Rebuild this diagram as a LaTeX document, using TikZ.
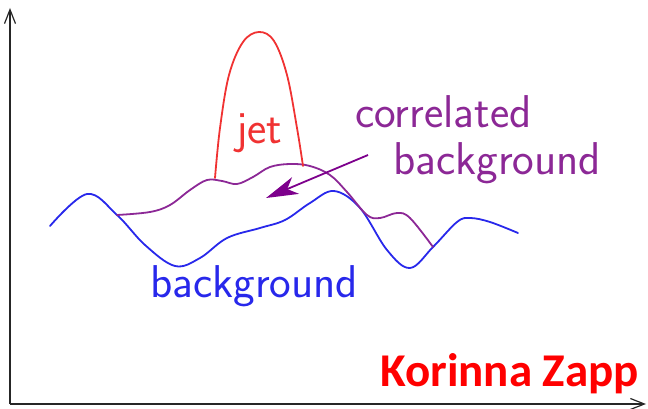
\documentclass[tikz,border=0pt]{standalone}
\usepackage{fontspec}
\newfontfamily\namefont{Carlito}
\usetikzlibrary{arrows.meta}
\definecolor{bgblue}{RGB}{40,40,235}
\definecolor{corrpurple}{RGB}{140,40,150}
\definecolor{arrowpurple}{RGB}{125,0,140}
\definecolor{jetred}{RGB}{240,50,50}
\definecolor{namered}{RGB}{255,0,0}
\begin{document}
\begin{tikzpicture}[x=1pt,y=-1pt,
  curve/.style={line width=1.8pt,line join=round,line cap=round},
  lbl/.style={inner sep=0pt,anchor=base west,font=\sffamily\fontsize{46}{52}\selectfont},
  axisline/.style={line width=1.3pt,draw=black!85,-{Straight Barb[length=14pt,width=11pt,line width=1.2pt]}}]
\useasboundingbox (0,0) rectangle (648,409);
% axes
\coordinate (o) at (10,404);
\coordinate (ytop) at (10,8);
\coordinate (xend) at (646,404);
\draw[axisline] (o) -- (ytop);
\draw[axisline] (o) -- (xend);
% background (blue)
\draw[curve,bgblue] plot[smooth,tension=0.6] coordinates {
 (50,226) (87,194) (117,215) (145,245) (175,266) (200,258) (227,238) (260,228) (285,220) (310,203) (334,191) (360,208) (387,250) (410,268) (433,247) (457,222) (470,218) (490,222) (518,233)};
% correlated background (purple)
\draw[curve,corrpurple] plot[smooth,tension=0.6] coordinates {
 (117,215) (150,212) (170,205) (190,190) (207,180) (222,181) (237,184) (253,177) (270,167) (290,164) (310,166) (330,175) (347,192) (367,215) (380,218) (397,213) (410,218) (433,247)};
% jet (red)
\draw[curve,jetred] plot[smooth,tension=0.6] coordinates {
 (215,178) (220,128) (229,75) (243,42) (259,32) (274,41) (287,75) (297,128) (303,166)};
% labels
\node[lbl,text=jetred] (jet) at (236,143) {jet};
\node[lbl,text=corrpurple] (corr) at (355,128) {correlated};
\node[lbl,text=corrpurple] (corrbg) at (393,175) {background};
\node[lbl,text=bgblue] (bg) at (150,297) {background};
\node[inner sep=0pt,anchor=base west,text=namered,font=\namefont\bfseries\fontsize{47}{52}\selectfont] (name) at (380,386) {Korinna Zapp};
% arrow
\coordinate (arrstart) at (368,155);
\coordinate (arrtip) at (266,198);
\draw[line width=1.8pt,arrowpurple,-{Stealth[length=32pt,width=18pt,inset=9pt]}] (arrstart) -- (arrtip);
\end{tikzpicture}
\end{document}
